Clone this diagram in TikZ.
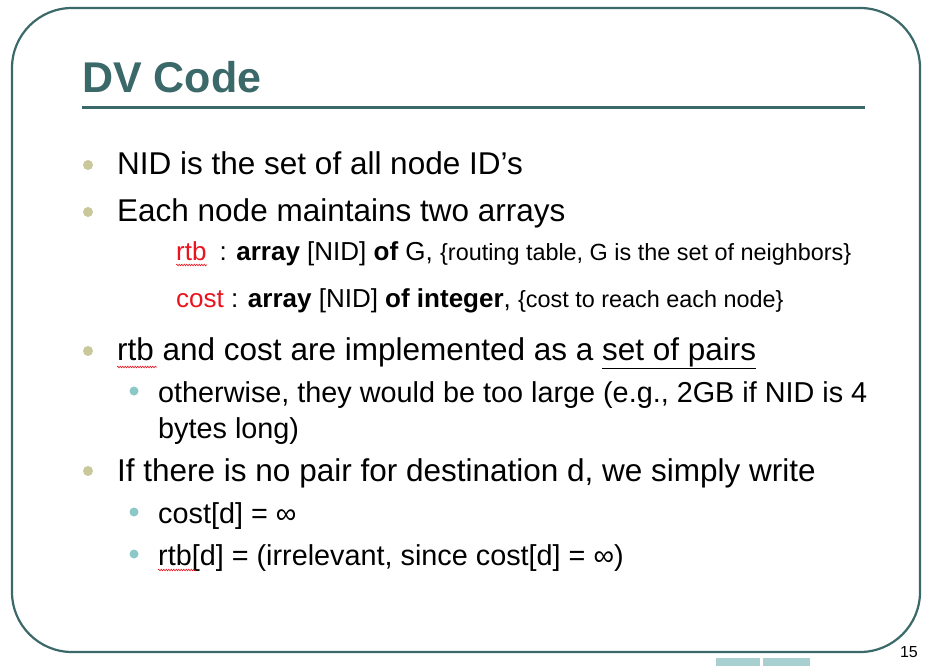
\documentclass[tikz,border=0pt]{standalone}
\usepackage{fontspec}
\setmainfont{Liberation Sans}
\usetikzlibrary{decorations.pathmorphing}
\definecolor{teal1}{HTML}{3B6868}
\definecolor{olive1}{HTML}{C8C89A}
\definecolor{dot2}{HTML}{8CC8C8}
\definecolor{btn}{HTML}{A8D0D0}
\definecolor{red1}{HTML}{E8141E}
\begin{document}
\begin{tikzpicture}[x=1pt,y=-1pt,
  main/.style={anchor=base west,inner sep=0,font=\fontsize{31.5}{34}\selectfont},
  subt/.style={anchor=base west,inner sep=0,font=\fontsize{28.8}{32}\selectfont},
  arr/.style={anchor=base west,inner sep=0,font=\fontsize{26}{28}\selectfont},
  bul/.style={circle,fill=olive1,inner sep=0,minimum size=10},
  bul2/.style={circle,fill=dot2,inner sep=0,minimum size=9},
  wavy/.style={red1,line width=0.6,decorate,decoration={snake,amplitude=0.8,segment length=2.5}}]
\useasboundingbox (0,0) rectangle (930,666);
\fill[white] (0,0) rectangle (930,666);
\draw[teal1,line width=2.2,rounded corners=60] (12,8) rectangle (920,652);
\node[anchor=base west,inner sep=0,text=teal1,font=\fontsize{43}{46}\selectfont\bfseries] (title) at (82,93) {DV Code};
\draw[teal1,line width=3] (82,108) -- (865,108);
\node[bul] (b1) at (88,165) {};
\node[main] (t1) at (117,175) {NID is the set of all node ID’s};
\node[bul] (b2) at (88,212) {};
\node[main] (t2) at (117,222) {Each node maintains two arrays};
\node[arr] (r1) at (176,260) {\textcolor{red1}{rtb}\hspace{0.5em}: \textbf{array} [NID] \textbf{of} G, {\fontsize{23.4}{26}\selectfont\{routing table, G is the set of neighbors\}}};
\draw[wavy] (176,265) -- (207,265);
\node[arr] (r2) at (176,307) {\textcolor{red1}{cost} : \textbf{array} [NID] \textbf{of integer}, {\fontsize{23.4}{26}\selectfont\{cost to reach each node\}}};
\node[bul] (b3) at (88,351) {};
\node[main] (t3) at (117,360) {rtb and cost are implemented as a \underline{set of pairs}};
\draw[wavy] (117,367) -- (157,367);
\node[bul2] (s1) at (134,391) {};
\node[subt] (u1) at (158,402) {otherwise, they would be too large (e.g., 2GB if NID is 4};
\node[subt] (u2) at (158,438) {bytes long)};
\node[bul] (b4) at (88,471) {};
\node[main] (t4) at (117,481) {If there is no pair for destination d, we simply write};
\node[bul2] (s2) at (134,512) {};
\node[subt] (u3) at (158,523) {cost[d] = ∞};
\node[bul2] (s3) at (134,554) {};
\node[subt] (u4) at (158,565) {rtb[d] = (irrelevant, since cost[d] = ∞)};
\draw[wavy] (158,570) -- (196,570);
\node[anchor=base east,inner sep=0,font=\fontsize{16}{18}\selectfont] (pg) at (918,657) {15};
\fill[btn] (716,658) rectangle (760,666);
\fill[btn] (763,658) rectangle (810,666);
\end{tikzpicture}
\end{document}
